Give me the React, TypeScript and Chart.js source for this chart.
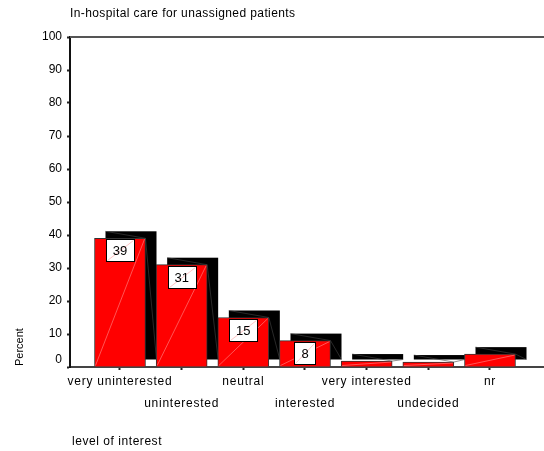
import React, { useEffect, useRef } from "react";
import { Chart, registerables } from "chart.js";

Chart.register(...registerables);

const categories = [
  "very uninterested",
  "uninterested",
  "neutral",
  "interested",
  "very interested",
  "undecided",
  "nr",
];
const percents = [39, 31, 15, 8, 1.8, 1.5, 3.9];
const valueLabels = ["39", "31", "15", "8", "", "", ""];
const yTicks = [0, 10, 20, 30, 40, 50, 60, 70, 80, 90, 100];
const chartTitle = "In-hospital care for unassigned patients";
const xTitle = "level of interest";
const yTitle = "Percent";

const FONT = "Liberation Sans, Arial, sans-serif";
const DX = 11;
const DY = -7;

const barDecor = {
  id: "barDecor",
  beforeDraw(chart: any) {
    (chart.ctx as any).letterSpacing = "0.75px";
  },
  beforeDatasetsDraw(chart: any) {
    const ctx = chart.ctx;
    (ctx as any).letterSpacing = "0px";
    const meta = chart.getDatasetMeta(0);
    ctx.save();
    meta.data.forEach((el: any) => {
      const { x, y, base, width } = el.getProps(["x", "y", "base", "width"], true);
      const left = x - width / 2;
      ctx.fillStyle = "#000";
      ctx.fillRect(left + DX, y + DY, width, base - y);
    });
    ctx.restore();
  },
  afterDatasetsDraw(chart: any) {
    const ctx = chart.ctx;
    const meta = chart.getDatasetMeta(0);
    ctx.save();
    meta.data.forEach((el: any, i: number) => {
      const { x, y, base, width } = el.getProps(["x", "y", "base", "width"], true);
      const left = x - width / 2;
      const right = x + width / 2;
      // faint gray 3D edge lines on the black shadow
      ctx.strokeStyle = "#444";
      ctx.lineWidth = 0.6;
      ctx.beginPath();
      ctx.moveTo(left + DX, y + DY);
      ctx.lineTo(right, y);
      ctx.moveTo(right, y);
      ctx.lineTo(right + DX, base + DY);
      ctx.stroke();
      // faint diagonal on red face
      ctx.strokeStyle = "rgba(255,150,150,0.8)";
      ctx.lineWidth = 0.7;
      ctx.beginPath();
      ctx.moveTo(left + 1, base - 1);
      ctx.lineTo(right - 1, y + 1);
      ctx.stroke();

      const label = valueLabels[i];
      if (label) {
        ctx.font = `13px ${FONT}`;
        const tw = ctx.measureText(label).width;
        const bw = Math.round(tw + 14);
        const bh = 22;
        const bx = Math.round(x - bw / 2) + 0.5;
        const by = Math.round(y + 1) + 0.5;
        ctx.fillStyle = "#fff";
        ctx.fillRect(bx, by, bw, bh);
        ctx.strokeStyle = "rgba(255,150,150,0.8)";
        ctx.lineWidth = 0.7;
        ctx.beginPath();
        ctx.moveTo(bx + 1, by + bh - 1);
        ctx.lineTo(bx + bw - 1, by + 1);
        ctx.stroke();
        ctx.strokeStyle = "#000";
        ctx.lineWidth = 1;
        ctx.strokeRect(bx, by, bw, bh);
        ctx.fillStyle = "#000";
        ctx.textAlign = "center";
        ctx.textBaseline = "middle";
        ctx.fillText(label, x, by + bh / 2 + 1);
      }
    });
    ctx.restore();
  },
  afterDraw(chart: any) {
    const ctx = chart.ctx;
    const area = chart.chartArea;
    const yScale = chart.scales.y;
    ctx.save();
    // top frame line
    ctx.strokeStyle = "#555";
    ctx.lineWidth = 2;
    ctx.beginPath();
    ctx.moveTo(area.left, area.top);
    ctx.lineTo(area.right, area.top);
    ctx.stroke();
    // zero label shifted up
    ctx.fillStyle = "#000";
    ctx.font = `12px ${FONT}`;
    (ctx as any).letterSpacing = "0px";
    ctx.textAlign = "right";
    ctx.textBaseline = "middle";
    ctx.fillText("0", area.left - 8, yScale.getPixelForValue(0) - 7);
    // chart title
    ctx.textAlign = "left";
    (ctx as any).letterSpacing = "0.4px";
    ctx.fillText(chartTitle, area.left, 14);
    // x title
    (ctx as any).letterSpacing = "0.55px";
    ctx.fillText(xTitle, area.left + 2, 442);
    // y title
    (ctx as any).letterSpacing = "0px";
    ctx.font = `11px ${FONT}`;
    ctx.translate(20, area.bottom - 1);
    ctx.rotate(-Math.PI / 2);
    ctx.textAlign = "left";
    ctx.textBaseline = "middle";
    ctx.fillText(yTitle, 0, 0);
    ctx.restore();
  },
};

export default function App() {
  const ref = useRef<HTMLCanvasElement | null>(null);
  useEffect(() => {
    document.body.style.margin = "0";
    const canvas = ref.current!;
    const chart = new Chart(canvas, {
      type: "bar",
      data: {
        datasets: [
          {
            data: percents.map((v, i) => ({ x: i, y: v })),
            backgroundColor: "#ff0000",
            borderColor: "#333",
            borderWidth: 1,
            barThickness: 51,
          },
        ],
      },
      options: {
        responsive: false,
        animation: false,
        devicePixelRatio: 1,
        layout: { padding: { top: 37, left: 0, right: 0, bottom: 0 } },
        plugins: {
          legend: { display: false },
          tooltip: { enabled: false },
          title: { display: false },
        },
        scales: {
          x: {
            type: "linear",
            offset: false,
            min: -0.8108,
            max: 6.8757,
            afterBuildTicks: (s: any) => {
              s.ticks = categories.map((_, i) => ({ value: i }));
            },
            afterFit: (s: any) => {
              s.height = 84;
            },
            border: { color: "#444", width: 2 },
            grid: {
              offset: false,
              drawOnChartArea: false,
              drawTicks: true,
              tickLength: 3,
              tickWidth: 2,
              tickColor: "#222",
            },
            ticks: {
              autoSkip: false,
              maxRotation: 0,
              minRotation: 0,
              padding: 1,
              color: "#000",
              font: { family: FONT, size: 12, lineHeight: "22px" },
              callback: (v: any) => {
                const i = Math.round(Number(v));
                const lab = categories[i] ?? "";
                return i % 2 === 1 ? ["", lab] : lab;
              },
            },
          },
          y: {
            min: 0,
            max: 100,
            afterBuildTicks: (s: any) => {
              s.ticks = yTicks.map((v) => ({ value: v }));
            },
            afterFit: (s: any) => {
              s.width = 70;
            },
            border: { color: "#111", width: 2 },
            grid: {
              drawOnChartArea: false,
              drawTicks: true,
              tickLength: 3,
              tickWidth: 2,
              tickColor: "#222",
            },
            ticks: {
              z: 1,
              padding: 5,
              color: "#000",
              font: { family: FONT, size: 12 },
              callback: (v: any) => (Number(v) === 0 ? "" : String(v)),
            },
          },
        },
      },
      plugins: [barDecor],
    });
    return () => chart.destroy();
  }, []);
  return (
    <canvas
      ref={ref}
      width={544}
      height={451}
      style={{ display: "block", width: 544, height: 451 }}
    />
  );
}
